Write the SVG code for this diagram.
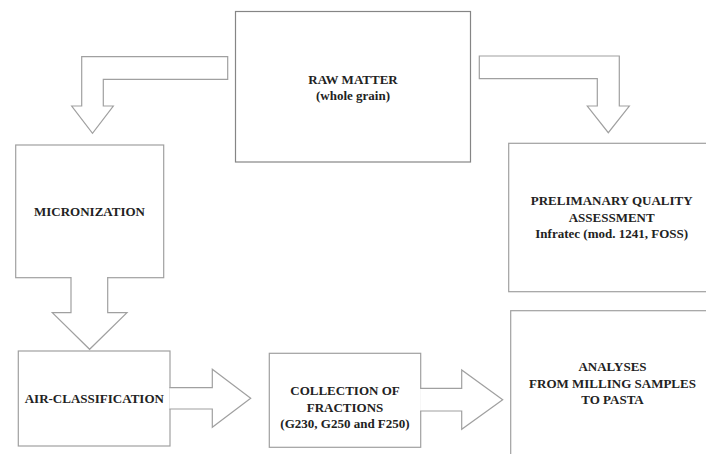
<svg xmlns="http://www.w3.org/2000/svg" width="706" height="454" viewBox="0 0 706 454">
<style>
.box{fill:#fff;stroke:#a0a0a0;stroke-width:1.2}
.dark{stroke:#858585}
.arr{fill:#fff;stroke:#a0a0a0;stroke-width:1.2;stroke-linejoin:miter}
.t{font-family:'Liberation Serif','DejaVu Serif',serif;font-weight:700;font-size:13px;fill:#222;text-anchor:middle}
</style>
<rect width="706" height="454" fill="#fff"/>
<g id="raw-matter">
<rect class="box dark" x="235.5" y="11.5" width="235" height="150.5"/>
<text class="t" x="353" y="84">RAW MATTER</text>
<text class="t" x="353" y="100">(whole grain)</text>
</g>
<g id="micronization">
<rect class="box" x="15.7" y="145" width="148" height="132.7"/>
<text class="t" x="89.5" y="216">MICRONIZATION</text>
</g>
<g id="preliminary">
<rect class="box" x="508.7" y="143.3" width="230" height="148.4"/>
<text class="t" x="611.7" y="205">PRELIMANARY QUALITY</text>
<text class="t" x="611.7" y="221.5">ASSESSMENT</text>
<text class="t" x="611.7" y="238">Infratec (mod. 1241, FOSS)</text>
</g>
<g id="air-classification">
<rect class="box" x="18.3" y="351" width="151.7" height="95"/>
<text class="t" x="94.3" y="403.3">AIR-CLASSIFICATION</text>
</g>
<g id="collection">
<rect class="box" x="269.3" y="353.3" width="151.4" height="94"/>
<text class="t" x="345" y="395">COLLECTION OF</text>
<text class="t" x="345" y="411.5">FRACTIONS</text>
<text class="t" x="345" y="428">(G230, G250 and F250)</text>
</g>
<g id="analyses">
<rect class="box" x="510.7" y="310.7" width="230" height="170"/>
<text class="t" x="612.5" y="371">ANALYSES</text>
<text class="t" x="612.5" y="387.5">FROM MILLING SAMPLES</text>
<text class="t" x="612.5" y="404">TO PASTA</text>
</g>
<g id="connectors">
<polygon class="arr" points="227.7,56.7 81.7,56.7 81.7,106 71.7,106 92.5,133.3 113.3,106 103.3,106 103.3,79.3 227.7,79.3"/>
<polygon class="arr" points="479.3,56 619.3,56 619.3,106 629.3,106 608.3,132.7 587.3,106 597.3,106 597.3,78.7 479.3,78.7"/>
<path class="arr" d="M71,277 V312.7 H52.3 L89.6,349.3 L127,312.7 H107.7 V277"/>
<path class="arr" d="M169.4,387.7 H212.3 V369.3 L250.7,398.3 L212.3,427.3 V409 H169.4"/>
<path class="arr" d="M420.1,388.3 H461.7 V370 L502.7,399.7 L461.7,429.3 V411 H420.1"/>
</g>
</svg>
